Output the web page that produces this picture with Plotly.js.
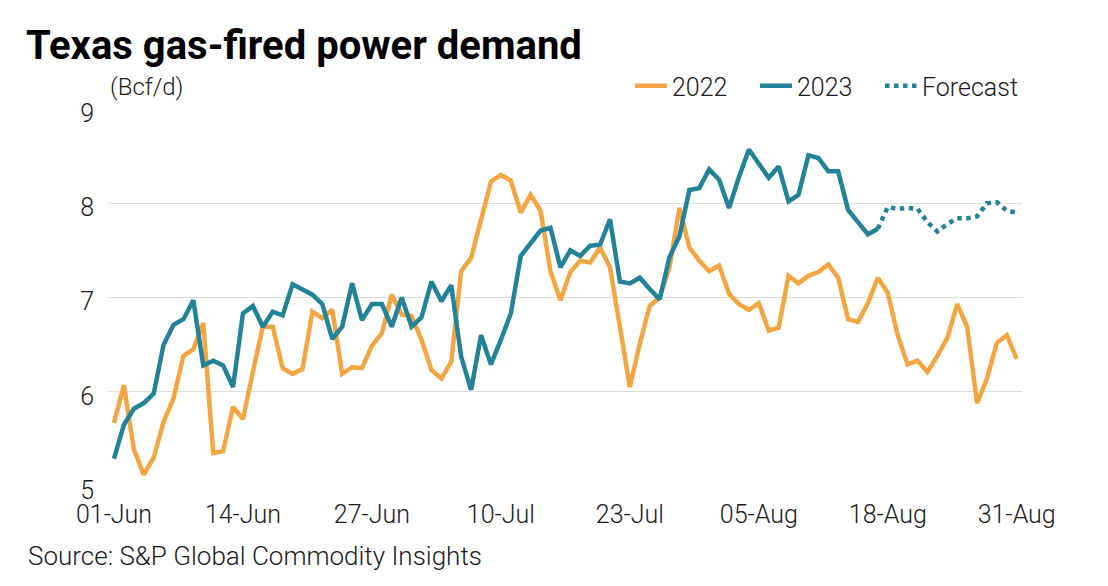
<!DOCTYPE html>
<html>
<head>
<meta charset="utf-8">
<script src="https://cdn.plot.ly/plotly-3.0.1.min.js"></script>
<style>
  html, body { margin: 0; padding: 0; background: #ffffff; }
  #chart { width: 1108px; height: 586px; }
</style>
</head>
<body>
<div id="chart"></div>
<script>
// ---- Data ----
const startDate = '2023-06-01';
const nDays = 92;
const tickDates = ['2023-06-01','2023-06-14','2023-06-27','2023-07-10','2023-07-23','2023-08-05','2023-08-18','2023-08-31'];
const tickLabels = ['01-Jun','14-Jun','27-Jun','10-Jul','23-Jul','05-Aug','18-Aug','31-Aug'];
const yTickVals = [5, 6, 7, 8, 9];
const yTickLabels = ['5', '6', '7', '8', '9'];

const demand2022 = [
  5.67, 6.07, 5.39, 5.12, 5.30, 5.68, 5.93, 6.38, 6.45, 6.73,
  5.35, 5.37, 5.84, 5.71, 6.21, 6.69, 6.69, 6.25, 6.19, 6.24,
  6.85, 6.78, 6.87, 6.19, 6.26, 6.25, 6.49, 6.62, 7.03, 6.82,
  6.80, 6.55, 6.23, 6.14, 6.32, 7.28, 7.42, 7.83, 8.23, 8.30,
  8.24, 7.90, 8.09, 7.92, 7.28, 6.97, 7.27, 7.39, 7.37, 7.53,
  7.32, 6.69, 6.05, 6.51, 6.91, 7.00, 7.32, 7.95, 7.53, 7.39,
  7.28, 7.34, 7.04, 6.93, 6.87, 6.94, 6.65, 6.68, 7.23, 7.15,
  7.23, 7.27, 7.35, 7.21, 6.77, 6.74, 6.94, 7.21, 7.05, 6.60,
  6.29, 6.33, 6.21, 6.38, 6.57, 6.93, 6.69, 5.88, 6.14, 6.52,
  6.60, 6.35
];

const demand2023 = [
  5.29, 5.65, 5.82, 5.88, 5.98, 6.50, 6.71, 6.77, 6.97, 6.28,
  6.33, 6.28, 6.05, 6.83, 6.91, 6.69, 6.85, 6.81, 7.14, 7.08,
  7.03, 6.93, 6.56, 6.69, 7.15, 6.76, 6.93, 6.93, 6.69, 7.00,
  6.69, 6.79, 7.17, 6.96, 7.13, 6.37, 6.02, 6.60, 6.29, 6.55,
  6.83, 7.44, 7.57, 7.71, 7.74, 7.32, 7.50, 7.44, 7.55, 7.56,
  7.83, 7.17, 7.15, 7.21, 7.09, 6.98, 7.43, 7.65, 8.14, 8.16,
  8.36, 8.25, 7.95, 8.28, 8.57, 8.42, 8.27, 8.39, 8.02, 8.09,
  8.51, 8.48, 8.34, 8.34, 7.93, 7.80, 7.67, 7.73
];

const forecastStart = 77; // index of first forecast date (joins last actual)
const forecast2023 = [
  7.73, 7.96, 7.94, 7.95, 7.94, 7.80, 7.70, 7.78, 7.84, 7.84,
  7.86, 8.00, 8.01, 7.92, 7.90
];

// ---- Dates (x categories) ----
function buildDates(start, n) {
  const out = [];
  const d0 = new Date(start + 'T00:00:00Z');
  for (let i = 0; i < n; i++) {
    const d = new Date(d0.getTime() + i * 86400000);
    out.push(d.toISOString().slice(0, 10));
  }
  return out;
}
const dates = buildDates(startDate, nDays);

const ORANGE = '#F2A541';
const TEAL = '#22829A';
const FONT = 'Roboto, "Open Sans", sans-serif';
const TXT = '#1a1a1a';

const traces = [
  {
    x: dates.slice(0, demand2022.length), y: demand2022, name: '2022',
    type: 'scatter', mode: 'lines', legendwidth: 78,
    line: { color: ORANGE, width: 4.5 }
  },
  {
    x: dates.slice(0, demand2023.length), y: demand2023, name: '2023',
    type: 'scatter', mode: 'lines', legendwidth: 78,
    line: { color: TEAL, width: 4.5 }
  },
  {
    x: dates.slice(forecastStart, forecastStart + forecast2023.length), y: forecast2023, name: 'Forecast',
    type: 'scatter', mode: 'lines', legendwidth: 95,
    line: { color: TEAL, width: 4.5, dash: 'dot' }
  }
];

// plot area in pixels: left 108, right 1022, top 107, bottom 486
const PL = 108, PR = 1022, PT = 107, PB = 486;
const px2paperX = x => (x - PL) / (PR - PL);
const px2paperY = y => (PB - y) / (PB - PT);

const layout = {
  width: 1108, height: 586,
  margin: { l: PL, r: 1108 - PR, t: PT, b: 586 - PB },
  paper_bgcolor: '#ffffff', plot_bgcolor: '#ffffff',
  font: { family: FONT, color: TXT, size: 24 },
  title: {
    text: '<b>Texas gas-fired power demand</b>',
    font: { family: FONT, size: 40, color: '#000000' },
    xref: 'container', x: 26 / 1108, xanchor: 'left',
    yref: 'container', y: 1 - 45 / 586, yanchor: 'middle'
  },
  showlegend: true,
  legend: {
    orientation: 'h',
    xref: 'paper', x: 1, xanchor: 'right',
    yref: 'container', y: 1 - 86 / 586, yanchor: 'middle',
    font: { family: FONT, size: 25, color: TXT, weight: 300 },
    itemwidth: 32,
    bgcolor: 'rgba(0,0,0,0)'
  },
  xaxis: {
    type: 'date',
    range: ['2023-05-31 09:30', '2023-08-31 12:45'],
    tickmode: 'array', tickvals: tickDates, ticktext: tickLabels,
    showgrid: false, zeroline: false, showline: false,
    ticks: '', ticklabelstandoff: 11,
    tickfont: { family: FONT, size: 25, color: TXT, weight: 300 },
    fixedrange: true
  },
  yaxis: {
    range: [5, 9],
    tickmode: 'array', tickvals: yTickVals, ticktext: yTickLabels,
    showgrid: true, gridcolor: '#dedede', gridwidth: 1.3,
    zeroline: false, showline: false,
    ticks: '', ticklabelstandoff: 13, ticklabelshift: 4,
    tickfont: { family: FONT, size: 25, color: TXT, weight: 300 },
    fixedrange: true
  },
  annotations: [
    {
      text: '(Bcf/d)', xref: 'paper', yref: 'paper',
      x: 0, xanchor: 'left', y: px2paperY(85), yanchor: 'middle',
      showarrow: false, font: { family: FONT, size: 24, color: TXT, weight: 300 }
    },
    {
      text: 'Source: S&P Global Commodity Insights', xref: 'paper', yref: 'paper',
      x: px2paperX(26), xanchor: 'left', y: px2paperY(556), yanchor: 'middle',
      showarrow: false, font: { family: FONT, size: 26, color: TXT, weight: 300 }
    }
  ]
};

Plotly.newPlot('chart', traces, layout, { displayModeBar: false, staticPlot: true });
</script>
</body>
</html>
